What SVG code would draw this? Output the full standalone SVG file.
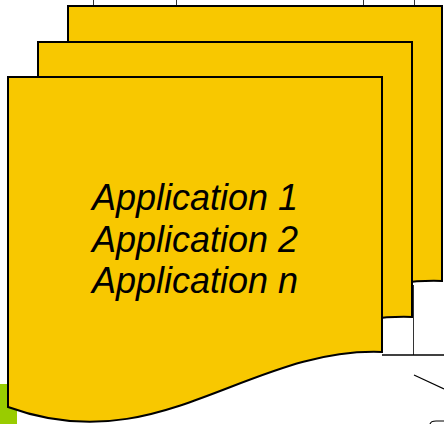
<svg xmlns="http://www.w3.org/2000/svg" width="444" height="424" viewBox="0 0 444 424">
  <style>
    .doc { fill: #F8C800; stroke: #000; stroke-width: 2; stroke-linejoin: miter; }
    .bg { fill: none; stroke: #333; stroke-width: 1; }
    .lbl { font-family: "Liberation Sans", Arial, sans-serif; font-style: italic; font-size: 36px; fill: #000; text-anchor: middle; }
  </style>
  <defs>
    <path id="docShape" d="M0,0 H374 V275 C240,270 150,385 0,330 Z"/>
  </defs>
  <rect x="0" y="0" width="444" height="424" fill="#fff"/>
  <g id="background">
    <line class="bg" x1="93.5" y1="0" x2="93.5" y2="6"/>
    <line class="bg" x1="176.5" y1="0" x2="176.5" y2="6"/>
    <line class="bg" x1="363.5" y1="0" x2="363.5" y2="6"/>
    <line class="bg" x1="414.5" y1="0" x2="414.5" y2="6"/>
    <line class="bg" x1="413.5" y1="285" x2="413.5" y2="355"/>
    <line x1="382" y1="355" x2="444" y2="355" stroke="#000" stroke-width="1.5"/>
    <line x1="414" y1="375" x2="444" y2="389" stroke="#000" stroke-width="1.2"/>
    <path d="M430,424 Q431,421 436,421 H444" fill="none" stroke="#000" stroke-width="1.2"/>
    <rect x="0" y="384" width="17" height="40" fill="#99CC00"/>
  </g>
  <g id="app-doc-3">
    <use href="#docShape" class="doc" transform="translate(68,6)"/>
  </g>
  <g id="app-doc-2">
    <use href="#docShape" class="doc" transform="translate(38,42)"/>
  </g>
  <g id="app-doc-1">
    <use href="#docShape" class="doc" transform="translate(8,77)"/>
    <text class="lbl" x="195" y="210">Application 1</text>
    <text class="lbl" x="195" y="252">Application 2</text>
    <text class="lbl" x="195" y="293">Application n</text>
  </g>
</svg>
